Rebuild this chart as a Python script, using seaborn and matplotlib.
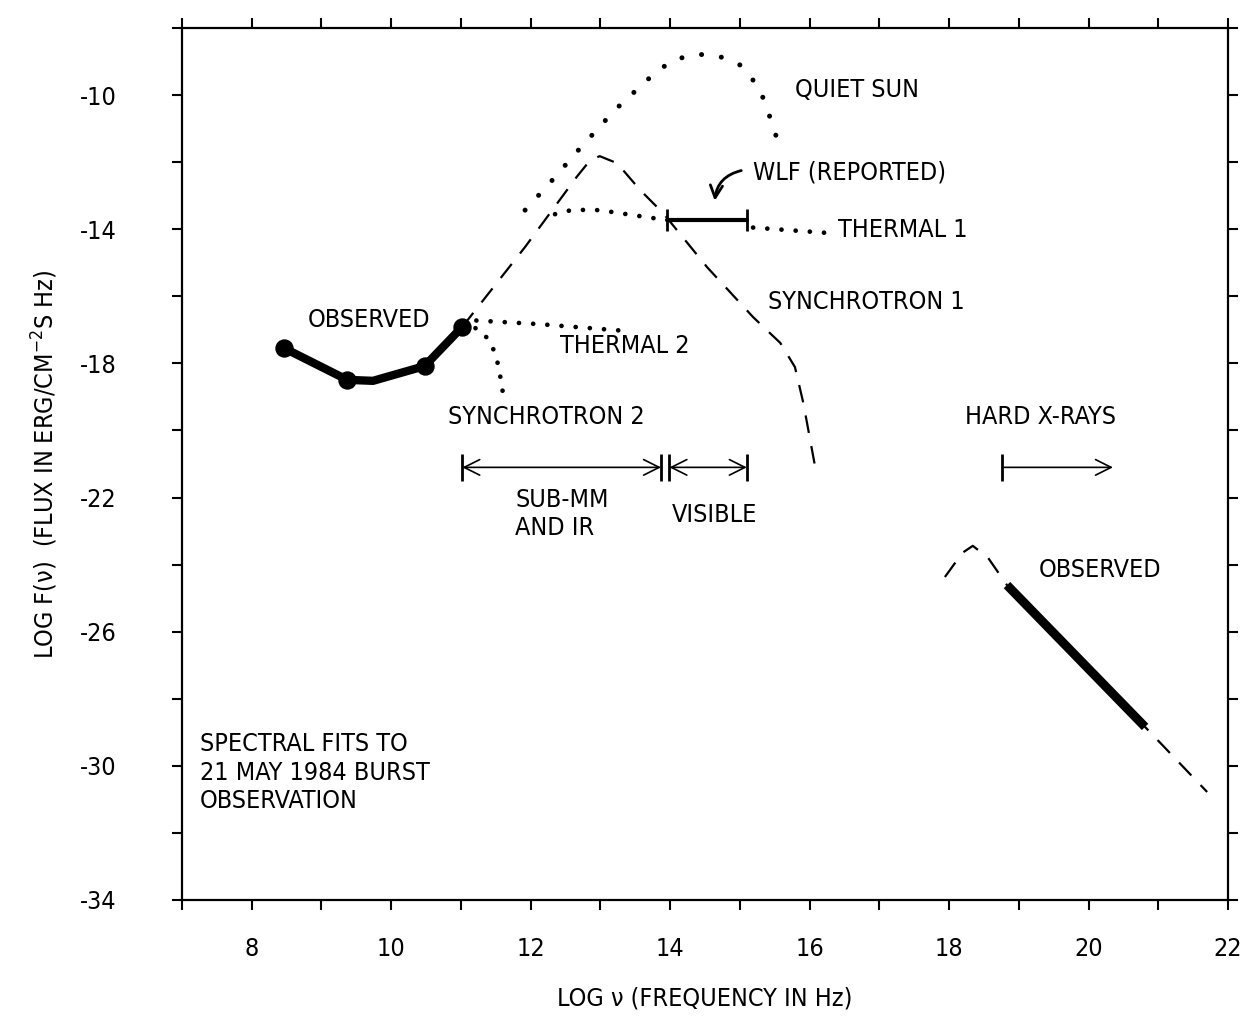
import matplotlib
matplotlib.use("Agg")
import matplotlib.pyplot as plt
import seaborn as sns

# observed radio spectrum (log nu, log F)
radio_x = [8.46, 9.37, 9.74, 10.48, 11.02]
radio_y = [-17.54, -18.49, -18.52, -18.08, -16.91]
radio_pts_x = [8.46, 9.37, 10.48, 11.02]
radio_pts_y = [-17.54, -18.49, -18.08, -16.91]

# quiet sun (dotted)
quiet_x = [11.92, 12.25, 12.71, 13.21, 13.75, 14.04, 14.39, 14.69, 15.0, 15.25, 15.36, 15.52]
quiet_y = [-13.43, -12.68, -11.58, -10.44, -9.40, -8.95, -8.78, -8.83, -9.10, -9.70, -10.21, -11.22]

# synchrotron 1 (dashed)
sync1_x = [11.02, 11.92, 12.66, 12.85, 12.99, 13.24, 13.57, 13.90, 14.53, 15.19, 15.58, 15.79, 15.91, 16.08]
sync1_y = [-16.91, -14.53, -12.44, -11.95, -11.82, -12.03, -12.83, -13.52, -15.13, -16.62, -17.39, -18.11, -19.18, -21.09]

# thermal 1 (dotted, broken by the WLF bar)
therm1a_x = [12.35, 12.6, 12.99, 13.57, 13.93]
therm1a_y = [-13.55, -13.42, -13.43, -13.61, -13.72]
therm1b_x = [15.19, 16.26]
therm1b_y = [-13.95, -14.11]

# white light flare (reported)
wlf_x = [13.96, 15.10]
wlf_y = [-13.73, -13.73]

# thermal 2 and synchrotron 2 (dotted)
therm2_x = [11.02, 11.13, 12.13, 13.35]
therm2_y = [-16.75, -16.71, -16.83, -17.03]
sync2_x = [11.02, 11.12, 11.3, 11.42, 11.5, 11.55, 11.6]
sync2_y = [-16.8, -16.85, -17.05, -17.36, -17.75, -18.2, -18.85]

# hard x-ray fit (dashed) and observed part (solid)
xray_fit_x = [17.94, 18.19, 18.34, 18.56, 18.83, 20.81, 21.70]
xray_fit_y = [-24.37, -23.65, -23.44, -23.80, -24.61, -28.84, -30.78]
xray_obs_x = [18.83, 20.81]
xray_obs_y = [-24.61, -28.84]

# wavelength bands
band_y = -21.1
submm_band = [11.02, 13.87]
visible_band = [13.99, 15.10]
hxr_band = [18.76, 20.35]

x_major = [8, 10, 12, 14, 16, 18, 20, 22]
x_minor = [7, 9, 11, 13, 15, 17, 19, 21]
y_major = [-34, -30, -26, -22, -18, -14, -10]
y_minor = [-32, -28, -24, -20, -16, -12, -8]

sns.set_style("ticks")
plt.rcParams["font.family"] = ["DejaVu Sans"]
plt.rcParams["font.stretch"] = "condensed"
plt.rcParams["text.color"] = "black"
plt.rcParams["axes.labelcolor"] = "black"
plt.rcParams["xtick.color"] = "black"
plt.rcParams["ytick.color"] = "black"

fig = plt.figure(figsize=(12.46, 10.16), dpi=100)
ax = fig.add_axes([0.146, 0.1142, 0.8396, 0.8582])

FS = 18
dot = dict(color="black", linewidth=3.6, linestyle=(0, (0.01, 4.0)), dash_capstyle="round")
dot_fine = dict(color="black", linewidth=3.4, linestyle=(0, (0.01, 3.0)), dash_capstyle="round")
dash = dict(color="black", linewidth=1.6, linestyle=(0, (8, 6)))


def curve(x, y, **kw):
    sns.lineplot(x=x, y=y, sort=False, estimator=None, ax=ax, **kw)


curve(quiet_x, quiet_y, **dot)
curve(sync1_x, sync1_y, **dash)
curve(therm1a_x, therm1a_y, **dot_fine)
curve(therm1b_x, therm1b_y, **dot_fine)
curve(therm2_x, therm2_y, **dot_fine)
curve(sync2_x, sync2_y, **dot_fine)
curve(xray_fit_x, xray_fit_y, **dash)

# observed data
curve(radio_x, radio_y, color="black", linewidth=6, solid_capstyle="round")
sns.scatterplot(x=radio_pts_x, y=radio_pts_y, s=150, color="black", edgecolor="black", ax=ax, zorder=5)
curve(xray_obs_x, xray_obs_y, color="black", linewidth=6.5, solid_capstyle="butt")
curve(wlf_x, wlf_y, color="black", linewidth=3)
ax.vlines(wlf_x, -14.05, -13.4, color="black", linewidth=2)

# band arrows
arr = dict(arrowstyle="<->", color="black", lw=1.2, mutation_scale=28, shrinkA=0, shrinkB=0)
ax.annotate("", xy=(submm_band[0], band_y), xytext=(submm_band[1], band_y), arrowprops=arr)
ax.annotate("", xy=(visible_band[0], band_y), xytext=(visible_band[1], band_y), arrowprops=arr)
ax.vlines(submm_band + visible_band, band_y - 0.4, band_y + 0.4, color="black", linewidth=2)
ax.annotate("", xy=(hxr_band[1], band_y), xytext=(hxr_band[0], band_y),
            arrowprops=dict(arrowstyle="->", color="black", lw=1.2, mutation_scale=28, shrinkA=0, shrinkB=0))
ax.vlines([hxr_band[0]], band_y - 0.4, band_y + 0.4, color="black", linewidth=2)

# WLF pointer
ax.annotate("", xy=(14.64, -13.15), xytext=(15.02, -12.25),
            arrowprops=dict(arrowstyle="->", color="black", lw=2, mutation_scale=22,
                            connectionstyle="arc3,rad=0.35", shrinkA=0, shrinkB=0))

labels = [
    ("QUIET SUN", 15.79, -9.85, "left"),
    ("WLF (REPORTED)", 15.19, -12.3, "left"),
    ("THERMAL 1", 16.41, -14.02, "left"),
    ("SYNCHROTRON 1", 15.4, -16.17, "left"),
    ("OBSERVED", 8.81, -16.7, "left"),
    ("THERMAL 2", 12.42, -17.48, "left"),
    ("SYNCHROTRON 2", 10.81, -19.6, "left"),
    ("HARD X-RAYS", 18.23, -19.6, "left"),
    ("SUB-MM\nAND IR", 12.45, -22.49, "center"),
    ("VISIBLE", 14.03, -22.52, "left"),
    ("OBSERVED", 19.28, -24.16, "left"),
    ("SPECTRAL FITS TO\n21 MAY 1984 BURST\nOBSERVATION", 7.26, -30.2, "left"),
]
for txt, x, y, ha in labels:
    ax.text(x, y, txt, ha=ha, va="center", fontsize=FS, linespacing=1.25, multialignment="left")

ax.set_xlim(7, 22)
ax.set_ylim(-34, -8)
ax.set_xticks(x_major)
ax.set_xticks(x_minor, minor=True)
ax.set_yticks(y_major)
ax.set_yticks(y_minor, minor=True)
ax.set_xticklabels([str(v) for v in x_major], fontsize=FS)
ax.set_yticklabels([str(v) for v in y_major], fontsize=FS)
ax.tick_params(axis="both", which="both", direction="out", length=7, width=1.5,
               top=True, right=True, color="black")
ax.tick_params(axis="x", pad=20)
ax.tick_params(axis="y", pad=40)
for s in ax.spines.values():
    s.set_visible(True)
    s.set_linewidth(1.6)
    s.set_color("black")

ax.set_xlabel("LOG \u03bd (FREQUENCY IN Hz)", fontsize=FS, labelpad=18)
ax.set_ylabel("LOG F(\u03bd)  (FLUX IN ERG/CM$^{-2}$S Hz)", fontsize=FS, labelpad=14)

fig.savefig("out.png", dpi=100)
